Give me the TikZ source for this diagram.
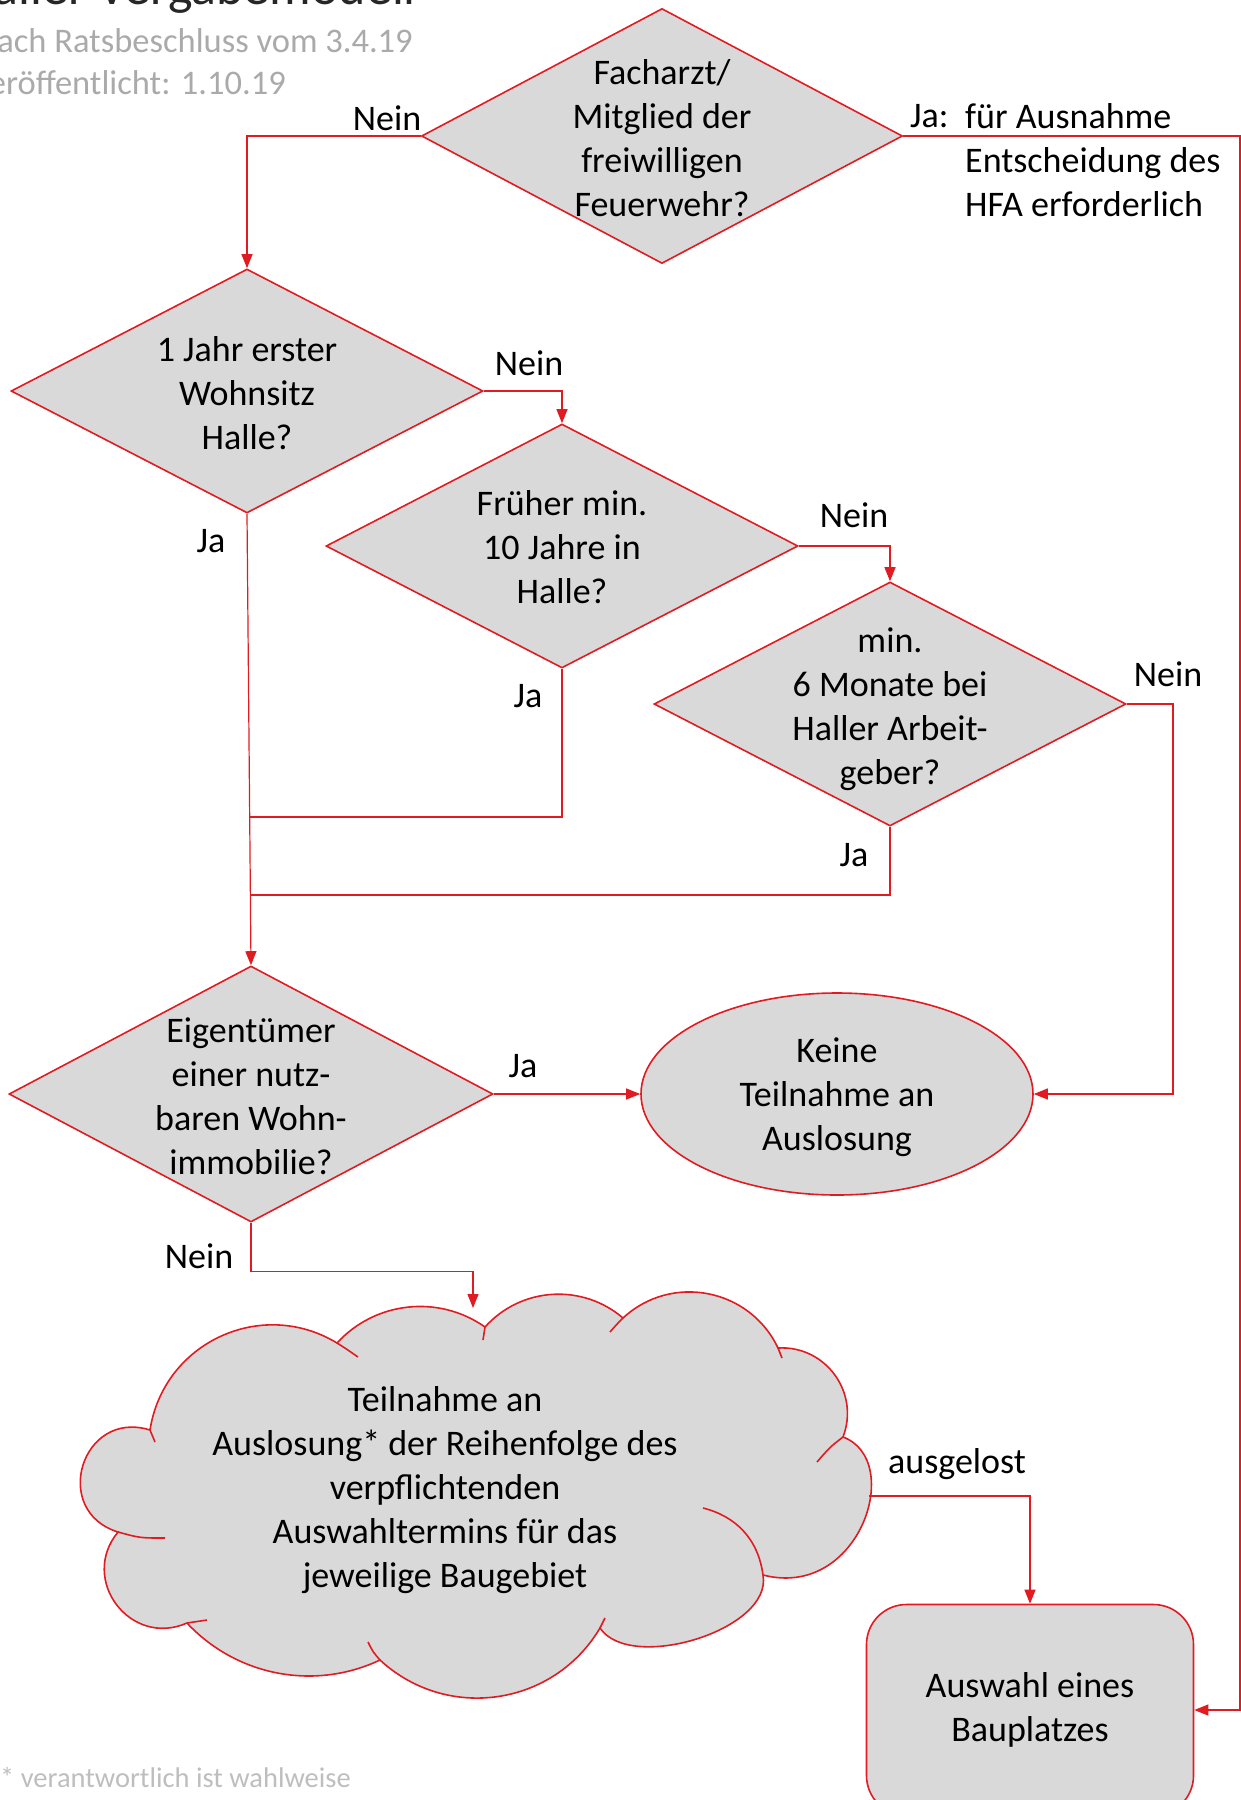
\documentclass[tikz,border=0pt]{standalone}
\usepackage{fontspec}
\setmainfont{Carlito}
\usetikzlibrary{shapes.geometric,arrows.meta}
\definecolor{ln}{RGB}{224,28,34}
\definecolor{fl}{RGB}{217,217,217}
\definecolor{gt}{RGB}{170,170,170}
\definecolor{gf}{RGB}{190,190,190}
\begin{document}
\begin{tikzpicture}[x=1pt,y=-1pt,
  every node/.style={font=\fontsize{36}{44}\selectfont, align=center},
  dec/.style={diamond, draw=ln, fill=fl, line width=1.6pt, inner sep=0pt},
  conn/.style={draw=ln, line width=1.2pt, -{Triangle[length=14pt,width=11pt]}},
  jn/.style={draw=ln, line width=1.2pt},
  shapeline/.style={draw=ln, line width=1.6pt},
  lbl/.style={inner sep=0pt},
  gtitle/.style={inner sep=0pt, text=gt, align=left}]
\useasboundingbox (0,0) rectangle (1241,1800);
% header and footnote
\node[gtitle, text=black!85, font=\fontsize{52}{56}\selectfont, anchor=base east] (title) at (416,4) {Haller Vergabemodell};
\node[gtitle, font=\fontsize{34.5}{40}\selectfont, anchor=base east] (sub1) at (413,52) {nach Ratsbeschluss vom 3.4.19};
\node[gtitle, font=\fontsize{34.5}{40}\selectfont, anchor=base east] (sub2) at (286,94) {veröffentlicht: 1.10.19};
\node[gtitle, text=gf, font=\fontsize{28.5}{32}\selectfont, anchor=base west] (foot) at (0,1787) {* verantwortlich ist wahlweise};
% decision shapes
\node[dec, minimum width=481, minimum height=255] (d1) at (662,136) {};
\node[dec, minimum width=472, minimum height=244] (d2) at (247,391) {};
\node[dec, minimum width=472, minimum height=244] (d3) at (562,546) {};
\node[dec, minimum width=472, minimum height=244] (d4) at (890,704) {};
\node[dec, minimum width=484, minimum height=256] (d5) at (251,1094) {};
\node[lbl] (t1) at (662,138) {Facharzt/\\Mitglied der\\freiwilligen\\Feuerwehr?};
\node[lbl] (t2) at (247,393) {1 Jahr erster\\Wohnsitz\\Halle?};
\node[lbl] (t3) at (562,547) {Früher min.\\10 Jahre in\\Halle?};
\node[lbl] (t4) at (890,709) {min.\\6 Monate bei\\Haller Arbeit-\\geber?};
\node[lbl] (t5) at (251,1096) {Eigentümer\\einer nutz-\\baren Wohn-\\immobilie?};
\node[ellipse, draw=ln, fill=fl, line width=1.6pt, inner sep=0pt, minimum width=392, minimum height=202] (e) at (837,1094) {};
\node[lbl] (te) at (837,1097) {Keine\\Teilnahme an\\Auslosung};
% cloud
\path[shapeline, fill=fl] (485,1327)
  .. controls (521,1287) and (582,1283) .. (623,1318)
  .. controls (671.5,1273) and (749.7,1288.3) .. (778,1348)
  .. controls (825.5,1345.2) and (860.1,1392.6) .. (843,1437)
  .. controls (905,1460) and (860,1600) .. (763,1575)
  .. controls (773,1630) and (630,1673) .. (600,1628)
  .. controls (553.5,1706.4) and (446.9,1721.8) .. (380,1660)
  .. controls (314.4,1691) and (236.6,1676) .. (187,1623)
  .. controls (130.5,1647.9) and (78.7,1579.7) .. (118,1532)
  .. controls (50,1510.7) and (82,1408.7) .. (150,1430)
  .. controls (163.6,1342.5) and (261.4,1297.1) .. (337,1343)
  .. controls (375.3,1301.2) and (438.7,1294.4) .. (485,1327) -- cycle;
\draw[shapeline] (337,1343) .. controls (345,1348) .. (358,1357);
\draw[shapeline] (485,1327) -- (483,1340);
\draw[shapeline] (623,1318) .. controls (617,1324) .. (610,1332);
\draw[shapeline] (778,1348) -- (782,1358);
\draw[shapeline] (843,1437) .. controls (830,1447) .. (817,1462);
\draw[shapeline] (763,1575) .. controls (758,1538) and (735,1516) .. (703,1508);
\draw[shapeline] (600,1628) -- (605,1618);
\draw[shapeline] (380,1660) .. controls (373,1652) .. (368,1642);
\draw[shapeline] (187,1623) -- (207,1620);
\draw[shapeline] (118,1532) .. controls (140,1538) .. (165,1538);
\draw[shapeline] (150,1430) -- (155,1442);
\node[lbl] (ct) at (445,1490) {Teilnahme an\\Auslosung* der Reihenfolge des\\verpflichtenden\\Auswahltermins für das\\jeweilige Baugebiet};
\node[rectangle, rounded corners=40pt, draw=ln, fill=fl, line width=1.6pt, inner sep=0pt, minimum width=327, minimum height=211] (b) at (1030,1710) {Auswahl eines\\Bauplatzes};
% connector ends
\coordinate (rt) at (1240,136);
\coordinate (r4) at (1173,704);
\coordinate (j3) at (250,817);
\coordinate (j4) at (250,895);
\coordinate (ctop) at (473,1308);
\coordinate (cr) at (869,1496);
% connectors
\draw[conn] (d1.west) -| (d2.north);
\draw[conn] (d1.east) -- (rt) |- (b.east);
\draw[conn] (d2.east) -| (d3.north);
\draw[conn] (d3.east) -| (d4.north);
\draw[conn] (d4.east) -- (r4) |- (e.east);
\draw[conn] (d2.south) -- (d5.north);
\draw[jn] (d3.south) |- (j3);
\draw[jn] (d4.south) |- (j4);
\draw[conn] (d5.east) -- (e.west);
\draw[conn] (d5.south) -- ++(0,49) -| (ctop);
\draw[conn] (cr) -| (b.north);
% labels
\node[lbl] (l1) at (387,118) {Nein};
\node[lbl, anchor=west] (l2) at (910,116) {Ja:};
\node[lbl, anchor=west, align=left] (l3) at (965,160) {für Ausnahme\\Entscheidung des\\HFA erforderlich};
\node[lbl] (l4) at (529,363) {Nein};
\node[lbl] (l5) at (211,541) {Ja};
\node[lbl] (l6) at (854,515) {Nein};
\node[lbl] (l7) at (528,696) {Ja};
\node[lbl] (l8) at (1168,674) {Nein};
\node[lbl] (l9) at (854,855) {Ja};
\node[lbl] (l10) at (523,1066) {Ja};
\node[lbl] (l11) at (199,1256) {Nein};
\node[lbl] (l12) at (957,1464) {ausgelost};
\end{tikzpicture}
\end{document}
